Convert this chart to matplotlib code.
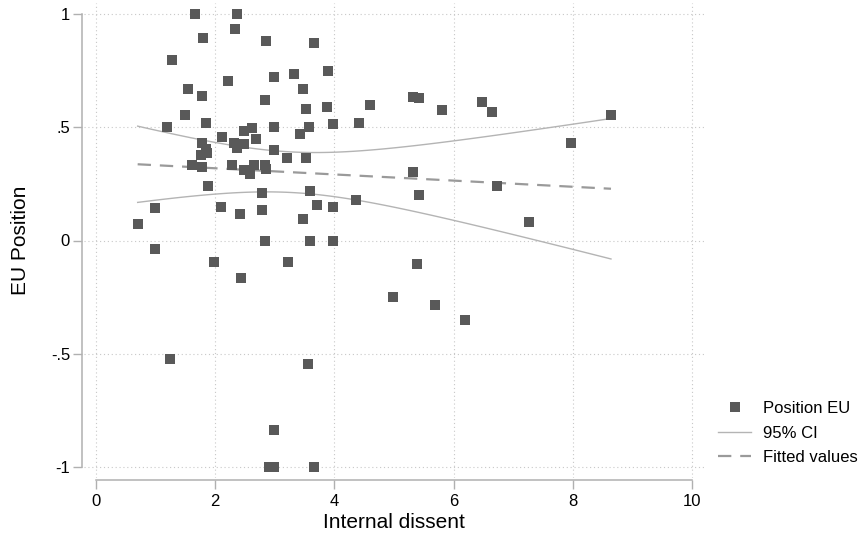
import numpy as np
import matplotlib
matplotlib.use("Agg")
import matplotlib.pyplot as plt
from matplotlib.lines import Line2D

plt.rcParams['font.family'] = ['Liberation Sans', 'DejaVu Sans']

# internal dissent (x) and EU position (y)
dissent = [1.66, 2.37, 2.34, 1.80, 2.85, 3.65, 1.27, 2.99, 3.32, 3.90,
           2.21, 3.48, 1.55, 1.78, 2.83, 3.53, 3.87, 1.49, 1.84, 1.20,
           2.99, 3.57, 3.97, 3.43, 2.62, 2.48, 2.68, 2.11, 1.78, 2.31,
           2.48, 2.36, 1.85, 1.77, 1.86, 2.99, 3.20, 3.52, 1.61, 1.78,
           2.28, 2.65, 2.84, 2.48, 2.58, 2.85, 1.88, 2.78, 3.59, 3.70,
           3.97, 0.985, 2.09, 2.41, 2.78, 3.48, 0.70, 2.84, 3.59, 3.97,
           0.985, 4.59, 4.42, 5.32, 5.42, 5.81, 6.48, 6.64, 5.32, 6.73,
           4.36, 5.42, 7.26, 8.64, 7.97, 1.98, 3.23, 2.43, 5.38, 4.98,
           5.69, 6.19, 1.24, 3.56, 2.99, 2.90, 2.99, 3.65]
eu_pos = [1.0, 1.0, 0.934, 0.894, 0.88, 0.872, 0.797, 0.723, 0.735, 0.748,
          0.704, 0.668, 0.668, 0.637, 0.62, 0.58, 0.589, 0.553, 0.518, 0.50,
          0.50, 0.50, 0.513, 0.473, 0.496, 0.482, 0.447, 0.456, 0.429, 0.429,
          0.425, 0.407, 0.403, 0.376, 0.385, 0.398, 0.363, 0.363, 0.332, 0.327,
          0.332, 0.336, 0.332, 0.31, 0.296, 0.314, 0.242, 0.212, 0.221, 0.159,
          0.150, 0.142, 0.146, 0.119, 0.133, 0.097, 0.071, 0.0, 0.0, 0.0,
          -0.036, 0.597, 0.518, 0.633, 0.628, 0.575, 0.611, 0.566, 0.301, 0.239,
          0.177, 0.199, 0.080, 0.553, 0.429, -0.093, -0.093, -0.164, -0.102, -0.248,
          -0.283, -0.352, -0.522, -0.544, -0.836, -1.0, -1.0, -1.0]

xticks = [0, 2, 4, 6, 8, 10]
yticks = [-1, -0.5, 0, 0.5, 1]
ylabels = ["-1", "-.5", "0", ".5", "1"]

x = np.array(dissent)
y = np.array(eu_pos)

# linear fit with 95% CI of the mean (like lfitci)
n = len(x)
b, a = np.polyfit(x, y, 1)
xs = np.linspace(x.min(), x.max(), 100)
fit = a + b * xs
resid = y - (a + b * x)
s = np.sqrt(np.sum(resid ** 2) / (n - 2))
se = s * np.sqrt(1.0 / n + (xs - x.mean()) ** 2 / np.sum((x - x.mean()) ** 2))
tval = 1.988
lo = fit - tval * se
hi = fit + tval * se

fig = plt.figure(figsize=(8.61, 5.37), dpi=100)
ax = fig.add_axes([84 / 861, 1 - 478 / 537, 620 / 861, 475 / 537])

grid_col = "#c8c8c8"
for t in xticks:
    ax.axvline(t, color=grid_col, lw=0.8, ls=(0, (1, 2.5)), zorder=0)
for t in yticks:
    ax.axhline(t, color=grid_col, lw=0.8, ls=(0, (1, 2.5)), zorder=0)

ax.plot(xs, lo, color="#b4b4b4", lw=1.0, zorder=2)
ax.plot(xs, hi, color="#b4b4b4", lw=1.0, zorder=2)
ax.plot(xs, fit, color="#9a9a9a", lw=1.6, ls=(0, (6, 4)), zorder=2)
ax.plot(x, y, "s", color="#595959", ms=7.2, mew=0, zorder=3)

ax.set_xlim(-0.2, 10.2)
ax.set_ylim(-1.05, 1.05)
ax.set_xticks(xticks)
ax.set_yticks(yticks)
ax.set_yticklabels(ylabels)

for side in ["top", "right"]:
    ax.spines[side].set_visible(False)
for side in ["left", "bottom"]:
    ax.spines[side].set_color("#b0b0b0")
    ax.spines[side].set_linewidth(1.1)
    ax.spines[side].set_position(("outward", 1.5))
ax.spines["left"].set_bounds(-1, 1)
ax.spines["bottom"].set_bounds(0, 10)
ax.tick_params(axis="both", direction="out", length=6.5, width=1.0,
               color="#b0b0b0", labelsize=12, labelcolor="black")
ax.tick_params(axis="y", pad=2)
ax.tick_params(axis="x", pad=3.5)

ax.set_xlabel("Internal dissent", fontsize=15, va="center")
ax.xaxis.set_label_coords(0.5, -0.093)
ax.set_ylabel("EU Position", fontsize=15, va="center")
ax.yaxis.set_label_coords(-0.103, 0.5)

handles = [
    Line2D([], [], marker="s", color="#595959", ls="none", ms=7.2, mew=0),
    Line2D([], [], color="#b4b4b4", lw=1.0),
    Line2D([], [], color="#9a9a9a", lw=1.6, ls=(0, (6, 4))),
]
labels = ["Position EU", "95% CI", "Fitted values"]
fig.legend(handles, labels, loc="upper left", bbox_to_anchor=(718 / 861, 1 - 401 / 537),
           frameon=False, fontsize=12, handlelength=2.0, handletextpad=0.7,
           labelspacing=0.57, borderpad=0, borderaxespad=0)

fig.savefig("out.png", dpi=100)
